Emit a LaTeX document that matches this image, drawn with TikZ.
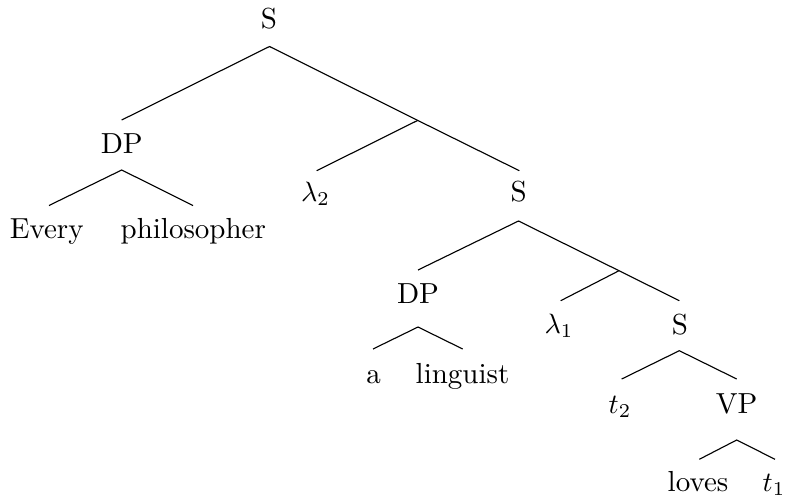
\documentclass[tikz,border=0pt]{standalone}
\begin{document}
\begin{tikzpicture}[x=0.357pt,y=-0.357pt,
  lab/.style={anchor=base,inner sep=0pt,font=\fontsize{10.35pt}{12pt}\selectfont},
  branch/.style={line width=0.4pt}]
\useasboundingbox (0,0) rectangle (786,498);
% labels
\node[lab] (s0)    at (269,28)    {S};
\node[lab] (dp1)   at (121.7,153) {DP};
\node[lab] (every) at (46.7,238)  {Every};
\node[lab] (phil)  at (193.3,238) {philosopher};
\node[lab] (lam2)  at (315.5,201) {$\lambda_2$};
\node[lab] (s1)    at (518.8,201) {S};
\node[lab] (dp2)   at (418,303)   {DP};
\node[lab] (a)     at (373.5,383) {a};
\node[lab] (ling)  at (462.5,383) {linguist};
\node[lab] (lam1)  at (559,333)   {$\lambda_1$};
\node[lab] (s2)    at (680,334)   {S};
\node[lab] (t2)    at (620,413)   {$t_2$};
\node[lab] (vp)    at (736.7,413) {VP};
\node[lab] (loves) at (698,491.7) {loves};
\node[lab] (t1)    at (774,491.5) {$t_1$};
% edge end points
\coordinate (s0-b)    at (269.5,46.5);
\coordinate (dp1-t)   at (121.7,120);
\coordinate (j1)      at (417.7,120.4);
\coordinate (lam2-t)  at (316.7,170.7);
\coordinate (s1-t)    at (519.3,170.7);
\coordinate (dp1-b)   at (121.7,170);
\coordinate (every-t) at (49,205.5);
\coordinate (phil-t)  at (193,205.5);
\coordinate (s1-b)    at (518.5,221);
\coordinate (dp2-t)   at (418,270);
\coordinate (j2)      at (619,270.7);
\coordinate (lam1-t)  at (560.7,300.7);
\coordinate (s2-t)    at (679.3,300.7);
\coordinate (dp2-b)   at (418,327);
\coordinate (a-t)     at (373,349);
\coordinate (ling-t)  at (462.7,349);
\coordinate (s2-b)    at (679.3,350.7);
\coordinate (t2-t)    at (621.7,379);
\coordinate (vp-t)    at (736.7,379);
\coordinate (vp-b)    at (736.7,440);
\coordinate (loves-t) at (699.3,459.3);
\coordinate (t1-t)    at (775,459.3);
% branches
\draw[branch] (dp1-t) -- (s0-b) -- (j1) -- (s1-t);
\draw[branch] (j1) -- (lam2-t);
\draw[branch] (every-t) -- (dp1-b) -- (phil-t);
\draw[branch] (dp2-t) -- (s1-b) -- (j2) -- (s2-t);
\draw[branch] (j2) -- (lam1-t);
\draw[branch] (a-t) -- (dp2-b) -- (ling-t);
\draw[branch] (t2-t) -- (s2-b) -- (vp-t);
\draw[branch] (loves-t) -- (vp-b) -- (t1-t);
\end{tikzpicture}
\end{document}
